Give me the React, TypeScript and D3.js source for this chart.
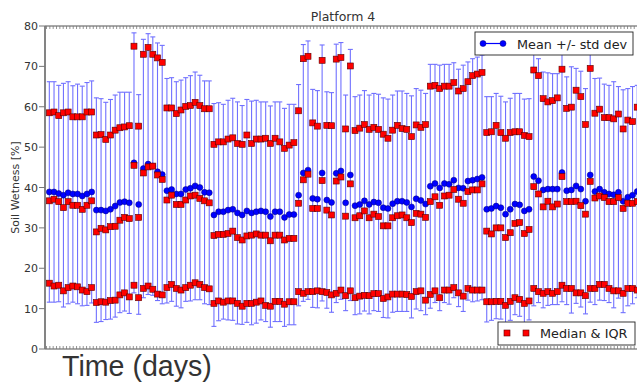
import * as d3 from 'd3';

// per-day statistics (Platform 4)
const meanVals = [
  38.9, 38.9, 38.5, 38.1, 38.7, 38.4, 38.4, 37.9, 38.4, 38.9,
  34.4, 34.4, 34.2, 34.6, 35.4, 36.3, 36.5, 36.2, 46.1, 35.8,
  44.7, 45.8, 45.3, 43.9, 43.2,
  39.2, 39.5, 38.4, 38.4, 39.5, 39.8, 40.4, 40.0, 38.8, 38.7,
  33.2, 34.0, 34.0, 34.4, 34.6, 33.7, 33.2, 34.2, 33.7, 34.0, 34.2, 34.0, 32.8, 34.0, 34.0, 32.6, 33.3, 33.3,
  38.1, 43.6, 44.3, 37.3, 37.1, 43.6, 36.9, 36.3, 43.5, 44.1, 36.2, 43.1, 35.5, 35.8, 36.7, 35.8, 36.4, 36.2,
  35.0, 34.8, 36.0, 36.6, 36.6, 36.3, 35.2, 37.2, 36.8, 35.9,
  40.3, 41.0, 39.9, 41.0, 40.8, 41.8, 39.9, 39.8, 41.6, 41.8, 42.1, 42.5,
  34.6, 34.8, 35.4, 35.0, 33.4, 34.6, 35.9, 35.7, 34.2, 34.6,
  42.7, 41.7, 39.4, 39.6, 39.6, 39.6, 43.7, 39.2, 39.4, 40.4, 39.6, 36.6, 43.1, 39.0, 39.6, 38.8, 38.4, 38.2,
  38.8, 36.6, 37.6, 38.1, 39.0,
];

const stdVals = [
  27.3, 27.3, 26.8, 27.7, 27.5, 26.8, 27.2, 27.2, 27.6, 27.5,
  27.8, 27.6, 26.9, 27.2, 27.5, 27.3, 27.1, 27.4, 32.2, 27.2,
  32.0, 32.3, 32.0, 31.9, 32.0,
  27.8, 27.7, 27.8, 28.2, 27.7, 27.9, 28.2, 27.8, 27.6, 27.7,
  27.6, 27.0, 26.6, 27.2, 27.5, 27.5, 27.1, 27.6, 27.7, 27.6, 27.0, 27.2, 27.4, 27.2, 27.2, 27.0, 27.3, 27.3,
  27.4, 31.8, 32.0, 27.0, 26.9, 31.7, 26.8, 27.2, 32.0, 31.8, 26.7, 31.1, 27.0, 27.1, 27.3, 27.1, 26.9, 26.9,
  27.2, 27.1, 26.9, 27.3, 27.3, 27.0, 27.5, 27.3, 27.3, 27.4,
  30.2, 29.5, 30.4, 29.5, 29.7, 29.1, 29.4, 30.5, 29.5, 30.1, 30.2, 30.3,
  27.9, 27.7, 27.9, 27.6, 27.8, 27.5, 27.4, 27.6, 27.7, 27.4,
  32.0, 30.2, 29.2, 28.8, 28.6, 28.6, 32.0, 28.2, 30.5, 29.1, 29.2, 27.9, 31.5, 28.0, 27.5, 26.8, 26.9, 28.0,
  26.2, 27.6, 26.9, 26.9, 26.3,
];

const q1Vals = [
  16.3, 15.6, 15.8, 14.4, 15.2, 15.6, 15.4, 14.6, 14.2, 15.2,
  11.5, 11.7, 11.6, 12.0, 12.1, 13.4, 13.9, 12.9, 15.8, 12.7,
  15.0, 15.6, 14.8, 13.6, 13.4,
  15.2, 16.0, 15.0, 14.6, 15.2, 15.8, 16.4, 16.0, 15.2, 14.9,
  11.3, 11.9, 11.6, 11.9, 11.9, 11.3, 10.6, 11.3, 11.3, 11.6, 11.9, 10.8, 10.6, 11.8, 11.8, 11.1, 11.7, 11.7,
  14.2, 13.8, 14.2, 14.2, 14.4, 14.2, 14.0, 13.4, 13.8, 14.6, 13.2, 14.4, 12.7, 13.1, 13.3, 13.2, 13.7, 13.7,
  12.5, 12.9, 13.6, 13.6, 13.6, 13.5, 13.0, 14.2, 14.4, 12.1,
  13.5, 14.4, 12.7, 14.6, 14.6, 15.2, 13.9, 13.1, 15.0, 14.6, 14.6, 14.6,
  11.7, 11.7, 11.8, 11.8, 10.8, 11.8, 12.7, 12.3, 11.3, 11.9,
  15.0, 14.2, 13.8, 14.2, 13.8, 14.2, 15.8, 15.0, 15.0, 13.9, 13.9, 13.2, 15.0, 15.0, 16.0, 16.0, 15.0, 14.4,
  14.4, 13.8, 15.0, 15.0, 14.6,
];

const medianVals = [
  36.7, 37.1, 36.5, 35.0, 36.5, 35.6, 35.6, 34.6, 35.6, 36.7,
  29.0, 29.9, 29.5, 30.3, 30.4, 31.9, 32.6, 32.3, 45.5, 32.6,
  43.6, 45.1, 45.3, 43.1, 42.0,
  36.9, 38.1, 35.8, 35.8, 36.9, 37.9, 38.1, 37.3, 36.7, 36.2,
  28.1, 28.4, 28.4, 28.6, 29.2, 27.6, 27.0, 28.0, 28.2, 28.5, 28.2, 28.2, 26.8, 28.2, 28.2, 27.0, 27.4, 27.4,
  36.1, 41.9, 43.3, 34.8, 34.8, 41.7, 34.4, 33.2, 41.6, 42.6, 32.9, 40.9, 32.5, 33.0, 34.2, 32.5, 33.4, 32.8,
  30.5, 30.5, 32.5, 33.0, 33.2, 32.5, 31.3, 33.6, 33.4, 32.6,
  36.5, 37.7, 35.6, 37.9, 38.1, 39.5, 37.1, 36.1, 39.0, 39.4, 39.4, 40.9,
  29.2, 28.5, 30.0, 30.0, 27.6, 28.8, 31.1, 31.3, 28.6, 29.6,
  40.2, 38.4, 35.2, 36.6, 35.2, 35.9, 42.7, 36.5, 36.5, 36.6, 35.5, 33.4, 41.5, 37.4, 37.9, 37.5, 36.5, 36.5,
  37.5, 34.8, 36.1, 36.1, 36.5,
];

const q3Vals = [
  58.5, 58.7, 57.8, 58.5, 58.7, 57.5, 57.5, 57.5, 58.7, 58.7,
  53.0, 53.1, 51.9, 53.0, 54.2, 54.8, 55.0, 55.3, 75.0, 55.2,
  73.0, 74.7, 73.0, 72.1, 71.0,
  59.7, 59.7, 58.3, 59.2, 60.1, 60.3, 61.1, 60.3, 59.5, 59.5,
  50.7, 51.3, 51.3, 52.0, 52.3, 50.9, 50.7, 53.0, 50.9, 52.0, 52.0, 52.2, 50.9, 52.2, 51.3, 49.7, 50.5, 51.1,
  59.0, 71.9, 72.5, 56.0, 55.2, 71.5, 55.4, 55.3, 71.8, 72.2, 54.5, 70.1, 54.1, 54.7, 55.6, 54.4, 54.9, 54.4,
  53.2, 52.2, 54.2, 55.4, 54.6, 54.4, 52.6, 55.5, 54.9, 55.6,
  65.1, 65.3, 64.5, 65.1, 65.1, 66.0, 63.9, 64.5, 66.2, 67.7, 68.1, 68.5,
  53.6, 53.8, 55.4, 53.6, 52.2, 53.6, 53.8, 53.8, 52.9, 52.6,
  69.1, 67.7, 62.0, 61.2, 61.5, 62.2, 69.3, 59.6, 59.9, 64.1, 62.5, 55.6, 69.5, 58.4, 59.4, 57.3, 57.3, 57.0,
  58.2, 54.5, 56.7, 56.3, 59.9,
];

const yTicks = [0, 10, 20, 30, 40, 50, 60, 70, 80];

const days = meanVals.map((_, i) => i);

const W = 637;
const H = 383;
const left = 45, right = 641, top = 26, bottom = 349;

const ERR = '#7070ff';
const AXIS = '#555';
const TXT = '#333';
const FONT = 'DejaVu Sans, sans-serif';

export default function App() {
  const x = d3.scaleLinear().domain([-0.92, 125.8]).range([left, right]);
  const y = d3.scaleLinear().domain([0, 80]).range([bottom, top]);

  // small inward ticks along the time axis
  const minorTicks = d3.range(-0.6, 125.8, 0.71);

  const sq = 6;
  const square = (v: number, i: number, key: string) => (
    <rect key={key + i} x={x(i) - sq / 2} y={y(v) - sq / 2} width={sq} height={sq}
      fill="#ff0000" stroke="#5a0000" strokeWidth={0.6} />
  );

  return (
    <svg width={W} height={H} style={{ position: 'absolute', left: 0, top: 0, background: '#fff' }}>
      <rect width={W} height={H} fill="#fff" />
      <text x={(left + right) / 2} y={20.5} textAnchor="middle" fontFamily={FONT} fontSize={12.5} fill={TXT}>
        Platform 4
      </text>

      {/* error bars: mean +/- std */}
      <g stroke={ERR} strokeWidth={1.1}>
        {days.map((i) => {
          const cx = x(i);
          const y0 = y(meanVals[i] - stdVals[i]);
          const y1 = y(meanVals[i] + stdVals[i]);
          return (
            <g key={'e' + i}>
              <line x1={cx} x2={cx} y1={y0} y2={y1} />
              <line x1={cx - 2.5} x2={cx + 2.5} y1={y0} y2={y0} />
              <line x1={cx - 2.5} x2={cx + 2.5} y1={y1} y2={y1} />
            </g>
          );
        })}
      </g>

      {/* means */}
      {days.map((i) => (
        <circle key={'m' + i} cx={x(i)} cy={y(meanVals[i])} r={3} fill="#0000ff" stroke="#00007a" strokeWidth={0.5} />
      ))}

      {/* median & IQR */}
      {q1Vals.map((v, i) => square(v, i, 'q1'))}
      {medianVals.map((v, i) => square(v, i, 'md'))}
      {q3Vals.map((v, i) => square(v, i, 'q3'))}

      {/* spines */}
      <line x1={left} x2={right} y1={top} y2={top} stroke={AXIS} strokeWidth={1.2} />
      <line x1={left} x2={right} y1={bottom} y2={bottom} stroke={AXIS} strokeWidth={1.2} />
      <line x1={left} x2={left} y1={top} y2={bottom} stroke="#777" strokeWidth={1.8} />

      <g stroke="#777" strokeWidth={0.8}>
        {minorTicks.map((t, k) => (
          <g key={'t' + k}>
            <line x1={x(t)} x2={x(t)} y1={top} y2={top + 3} />
            <line x1={x(t)} x2={x(t)} y1={bottom} y2={bottom - 3} />
          </g>
        ))}
      </g>

      {yTicks.map((t) => (
        <g key={'y' + t}>
          <line x1={left - 6} x2={left} y1={y(t)} y2={y(t)} stroke="#777" strokeWidth={1} />
          <text x={left - 7} y={y(t) + 4} textAnchor="end" fontFamily={FONT} fontSize={11} fill={TXT}>
            {t}
          </text>
        </g>
      ))}

      <text transform={`translate(19,${(top + bottom) / 2}) rotate(-90)`} textAnchor="middle"
        fontFamily={FONT} fontSize={11} fill={TXT}>
        Soil Wetness [%]
      </text>

      <text x={62} y={375.5} fontFamily="Liberation Sans, Arial, sans-serif" fontSize={28.6} fill={TXT}>
        Time (days)
      </text>

      {/* legend: mean */}
      <g>
        <rect x={475} y={32} width={158} height={23} fill="#fff" stroke="#222" strokeWidth={0.9} />
        <line x1={483} x2={503} y1={43.5} y2={43.5} stroke="#0000ff" strokeWidth={1.2} />
        <circle cx={483} cy={43.5} r={3} fill="#0000ff" stroke="#00007a" strokeWidth={0.5} />
        <circle cx={503} cy={43.5} r={3} fill="#0000ff" stroke="#00007a" strokeWidth={0.5} />
        <text x={517} y={48.5} fontFamily={FONT} fontSize={12.8} fill="#222">Mean +/- std dev</text>
      </g>

      {/* legend: median & IQR */}
      <g>
        <rect x={498} y={322} width={137} height={23} fill="#fff" stroke="#222" strokeWidth={0.9} />
        <rect x={504} y={330} width={6} height={6} fill="#ff0000" stroke="#5a0000" strokeWidth={0.6} />
        <rect x={523} y={330} width={6} height={6} fill="#ff0000" stroke="#5a0000" strokeWidth={0.6} />
        <text x={540} y={338} fontFamily={FONT} fontSize={12.8} fill="#222">Median &amp; IQR</text>
      </g>
    </svg>
  );
}
